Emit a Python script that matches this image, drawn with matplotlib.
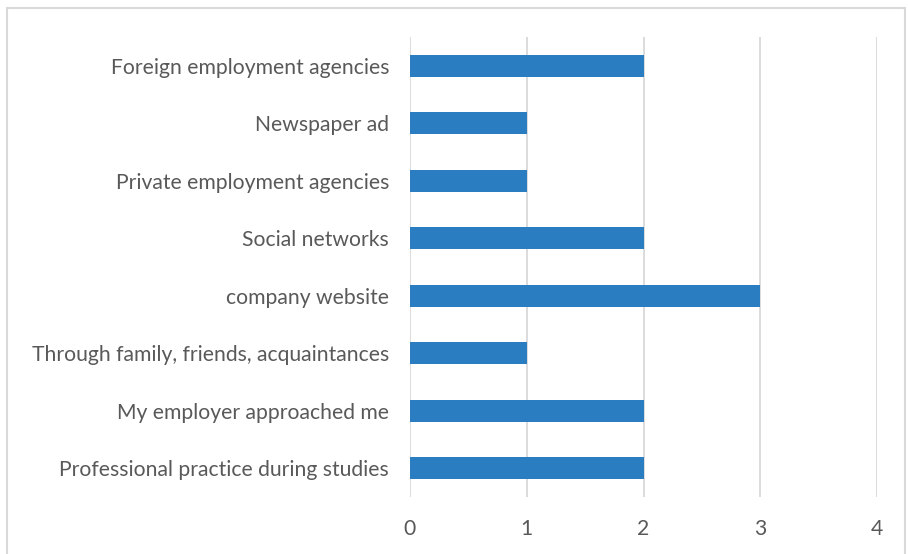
import matplotlib.pyplot as plt
from matplotlib.patches import Rectangle

# données du graphique (de haut en bas)
categories = [
    "Foreign employment agencies",
    "Newspaper ad",
    "Private employment agencies",
    "Social networks",
    "company website",
    "Through family, friends, acquaintances",
    "My employer approached me",
    "Professional practice during studies",
]
values = [2, 1, 1, 2, 3, 1, 2, 2]
x_ticks = [0, 1, 2, 3, 4]

plt.rcParams['font.family'] = ['Lato', 'DejaVu Sans']

W, H = 908, 554
fig = plt.figure(figsize=(W / 100, H / 100), dpi=100)
ax = fig.add_axes([410 / W, 1 - 497 / H, (877 - 410) / W, (497 - 37) / H])

pos = list(range(len(categories)))[::-1]
ax.barh(pos, values, height=0.38, color='#2A7DC1', zorder=3)

ax.set_xlim(0, 4)
ax.set_ylim(-0.5, len(categories) - 0.5)
ax.set_xticks(x_ticks)
ax.set_xticklabels([str(t) for t in x_ticks])
ax.set_yticks(pos)
ax.set_yticklabels(categories)

ax.grid(axis='x', color='#D9D9D9', linewidth=1.3, zorder=0)
ax.tick_params(axis='both', length=0, labelsize=15.2, colors='#595959')
ax.tick_params(axis='y', pad=15)
ax.tick_params(axis='x', pad=16)
for s in ax.spines.values():
    s.set_visible(False)

# cadre gris autour du graphique (coupé en bas)
fig.patches.append(Rectangle((6.5 / W, -0.1), (905 - 6.5) / W, 1.1 - 8.5 / H,
                             transform=fig.transFigure, fill=False,
                             edgecolor='#D9D9D9', linewidth=1.5))

fig.savefig('out.png', dpi=100)
